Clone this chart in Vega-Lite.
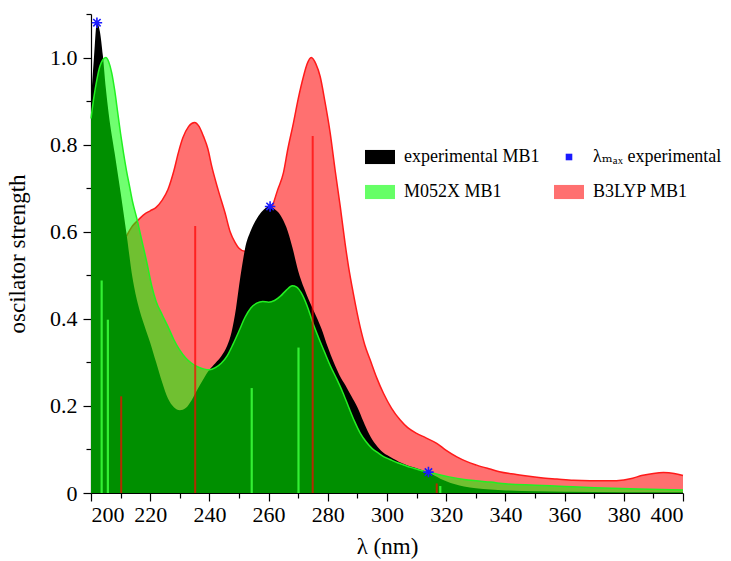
{
  "$schema": "https://vega.github.io/schema/vega-lite/v6.json",
  "width": 592,
  "height": 479,
  "autosize": {"type": "none"},
  "padding": {"left": 91, "top": 14, "right": 48, "bottom": 68},
  "background": "white",
  "config": {
    "view": {"stroke": null},
    "font": "Liberation Serif",
    "axis": {"labelFont": "Liberation Serif", "titleFont": "Liberation Serif", "domainColor": "black", "tickColor": "black", "labelColor": "black", "titleColor": "black", "grid": false, "titleFontWeight": "normal"},
    "legend": {"labelFont": "Liberation Serif, DejaVu Serif"}
  },
  "datasets": {
    "exp": [
      {"x":200,"y":0.90},{"x":201,"y":1.0},{"x":202,"y":1.08},{"x":203,"y":1.06},{"x":204,"y":1.005},{"x":205,"y":0.93},{"x":206,"y":0.87},{"x":208,"y":0.78},{"x":210,"y":0.69},{"x":212,"y":0.595},{"x":214,"y":0.495},{"x":216,"y":0.43},{"x":218,"y":0.385},{"x":220,"y":0.345},{"x":222,"y":0.30},{"x":224,"y":0.255},{"x":226,"y":0.217},{"x":228,"y":0.197},{"x":230,"y":0.19},{"x":232,"y":0.195},{"x":234,"y":0.213},{"x":236,"y":0.238},{"x":238,"y":0.262},{"x":240,"y":0.283},{"x":242,"y":0.298},{"x":244,"y":0.314},{"x":246,"y":0.338},{"x":247.5,"y":0.37},{"x":249,"y":0.425},{"x":250,"y":0.475},{"x":251,"y":0.52},{"x":252,"y":0.56},{"x":254,"y":0.603},{"x":256,"y":0.63},{"x":258,"y":0.648},{"x":260,"y":0.658},{"x":262,"y":0.652},{"x":264,"y":0.638},{"x":266,"y":0.61},{"x":268,"y":0.565},{"x":270,"y":0.51},{"x":272,"y":0.47},{"x":274,"y":0.437},{"x":276,"y":0.407},{"x":278,"y":0.375},{"x":280,"y":0.335},{"x":282,"y":0.3},{"x":284,"y":0.27},{"x":286,"y":0.247},{"x":288,"y":0.222},{"x":290,"y":0.197},{"x":292,"y":0.165},{"x":294,"y":0.135},{"x":296,"y":0.113},{"x":298,"y":0.097},{"x":300,"y":0.087},{"x":302,"y":0.079},{"x":304,"y":0.072},{"x":306,"y":0.066},{"x":308,"y":0.061},{"x":310,"y":0.057},{"x":312,"y":0.052},{"x":314,"y":0.047},{"x":316,"y":0.04},{"x":318,"y":0.033},{"x":320,"y":0.027},{"x":323,"y":0.02},{"x":326,"y":0.015},{"x":330,"y":0.011},{"x":335,"y":0.008},{"x":340,"y":0.006},{"x":350,"y":0.004},{"x":360,"y":0.003},{"x":380,"y":0.002},{"x":400,"y":0.002}
    ],
    "m052x": [
      {"x":200,"y":0.86},{"x":201,"y":0.91},{"x":202,"y":0.95},{"x":203,"y":0.98},{"x":204,"y":0.995},{"x":205,"y":1.0},{"x":206,"y":0.99},{"x":207,"y":0.965},{"x":208,"y":0.925},{"x":209,"y":0.875},{"x":210,"y":0.825},{"x":211,"y":0.78},{"x":212,"y":0.74},{"x":213,"y":0.705},{"x":214,"y":0.67},{"x":215.5,"y":0.63},{"x":217,"y":0.585},{"x":219,"y":0.525},{"x":220.5,"y":0.476},{"x":222,"y":0.44},{"x":224,"y":0.41},{"x":226,"y":0.382},{"x":228,"y":0.352},{"x":230,"y":0.328},{"x":232,"y":0.31},{"x":234,"y":0.298},{"x":236,"y":0.29},{"x":238,"y":0.285},{"x":240,"y":0.283},{"x":242,"y":0.288},{"x":244,"y":0.298},{"x":246,"y":0.315},{"x":248,"y":0.342},{"x":250,"y":0.372},{"x":252,"y":0.403},{"x":254,"y":0.425},{"x":256,"y":0.436},{"x":258,"y":0.44},{"x":260,"y":0.438},{"x":262,"y":0.442},{"x":264,"y":0.452},{"x":266,"y":0.466},{"x":268,"y":0.476},{"x":269.5,"y":0.473},{"x":271,"y":0.46},{"x":273,"y":0.43},{"x":275,"y":0.39},{"x":277,"y":0.355},{"x":279,"y":0.322},{"x":281,"y":0.29},{"x":283,"y":0.262},{"x":285,"y":0.232},{"x":287,"y":0.198},{"x":289,"y":0.165},{"x":291,"y":0.137},{"x":293,"y":0.117},{"x":295,"y":0.102},{"x":297,"y":0.092},{"x":299,"y":0.083},{"x":301,"y":0.077},{"x":303,"y":0.071},{"x":305,"y":0.066},{"x":307,"y":0.061},{"x":309,"y":0.057},{"x":311,"y":0.053},{"x":314,"y":0.048},{"x":317,"y":0.043},{"x":321,"y":0.037},{"x":326,"y":0.031},{"x":330,"y":0.028},{"x":335,"y":0.025},{"x":340,"y":0.021},{"x":350,"y":0.018},{"x":360,"y":0.015},{"x":370,"y":0.012},{"x":385,"y":0.009},{"x":400,"y":0.007}
    ],
    "b3lyp": [
      {"x":200,"y":0.30},{"x":205,"y":0.45},{"x":210,"y":0.56},{"x":212,"y":0.59},{"x":214,"y":0.613},{"x":215.5,"y":0.624},{"x":218,"y":0.64},{"x":220,"y":0.648},{"x":222,"y":0.656},{"x":224,"y":0.672},{"x":226,"y":0.697},{"x":228,"y":0.74},{"x":229.5,"y":0.781},{"x":231,"y":0.815},{"x":233,"y":0.842},{"x":235,"y":0.851},{"x":236.5,"y":0.842},{"x":238,"y":0.819},{"x":239.5,"y":0.79},{"x":240.8,"y":0.75},{"x":243,"y":0.695},{"x":245.3,"y":0.643},{"x":247,"y":0.6},{"x":248.7,"y":0.575},{"x":250,"y":0.562},{"x":252,"y":0.555},{"x":254,"y":0.56},{"x":256,"y":0.575},{"x":258,"y":0.6},{"x":260,"y":0.635},{"x":261.6,"y":0.665},{"x":263,"y":0.695},{"x":265,"y":0.735},{"x":266.5,"y":0.79},{"x":268.4,"y":0.85},{"x":270,"y":0.905},{"x":271.8,"y":0.957},{"x":273,"y":0.985},{"x":274.4,"y":1.0},{"x":276,"y":0.985},{"x":277.4,"y":0.957},{"x":279,"y":0.9},{"x":280.8,"y":0.827},{"x":282.5,"y":0.74},{"x":284.2,"y":0.658},{"x":285.8,"y":0.575},{"x":287,"y":0.52},{"x":288.6,"y":0.459},{"x":290.9,"y":0.382},{"x":292.5,"y":0.34},{"x":294.3,"y":0.306},{"x":296.5,"y":0.265},{"x":298.8,"y":0.229},{"x":301.5,"y":0.195},{"x":304.4,"y":0.168},{"x":307,"y":0.15},{"x":310,"y":0.137},{"x":313,"y":0.127},{"x":316.8,"y":0.114},{"x":320,"y":0.098},{"x":323.6,"y":0.083},{"x":327,"y":0.072},{"x":330.3,"y":0.064},{"x":334.8,"y":0.055},{"x":338,"y":0.049},{"x":342,"y":0.044},{"x":346,"y":0.04},{"x":352,"y":0.035},{"x":357.4,"y":0.032},{"x":363,"y":0.029},{"x":368.6,"y":0.028},{"x":375,"y":0.028},{"x":380,"y":0.03},{"x":383,"y":0.034},{"x":386,"y":0.04},{"x":390,"y":0.045},{"x":393.4,"y":0.047},{"x":397,"y":0.045},{"x":400,"y":0.04}
    ],
    "redsticks": [
      {"x":210.2,"y":0.222},{"x":235.2,"y":0.613},{"x":274.9,"y":0.82},{"x":316.8,"y":0.022}
    ],
    "greensticks": [
      {"x":203.6,"y":0.488},{"x":205.7,"y":0.398},{"x":254.3,"y":0.241},{"x":270.1,"y":0.334},{"x":318,"y":0.016}
    ],
    "stars": [
      {"x":202,"y":1.08},{"x":260.5,"y":0.658},{"x":314,"y":0.048}
    ],
    "legend": [
      {"series":"experimental MB1","x":500,"y":0.5},{"series":"M052X MB1","x":500,"y":0.5},{"series":"λₘₐₓ experimental","x":500,"y":0.5},{"series":"B3LYP MB1","x":500,"y":0.5}
    ]
  },
  "resolve": {"axis": {"x": "independent", "y": "independent"}},
  "layer": [
    {
      "data": {"name": "b3lyp"},
      "mark": {"type": "area", "color": "#ff0000", "opacity": 0.56, "interpolate": "monotone"},
      "encoding": {
        "x": {"field": "x", "type": "quantitative", "scale": {"domain": [200, 400], "nice": false, "zero": false},
          "axis": {"orient": "bottom", "values": [200,220,240,260,280,300,320,340,360,380,400], "tickSize": 8, "tickWidth": 1.2, "domainWidth": 1.2, "labelFont": "Liberation Serif", "labelFontSize": 22, "labelPadding": 3, "title": "λ (nm)", "titleFont": "Liberation Serif", "titleFontSize": 23, "titlePadding": 10}},
        "y": {"field": "y", "type": "quantitative", "scale": {"domain": [0, 1.1], "nice": false},
          "axis": {"orient": "left", "values": [0,0.2,0.4,0.6,0.8,1.0], "labelExpr": "datum.value === 0 ? '0' : format(datum.value, '.1f')", "tickSize": 8, "tickWidth": 1.2, "domainWidth": 1.2, "labelFont": "Liberation Serif", "labelFontSize": 22, "labelPadding": 6, "title": "oscilator strength", "titleFont": "Liberation Serif", "titleFontSize": 23, "titlePadding": 20}}
      }
    },
    {
      "data": {"name": "b3lyp"},
      "transform": [{"filter": "datum.x >= 212"}],
      "mark": {"type": "line", "color": "#ff1a1a", "strokeWidth": 1.5, "interpolate": "monotone"},
      "encoding": {
        "x": {"field": "x", "type": "quantitative", "scale": {"domain": [200, 400], "nice": false, "zero": false},
          "axis": {"orient": "bottom", "values": [210,230,250,270,290,310,330,350,370,390], "tickSize": 5, "tickWidth": 1.2, "domain": false, "labels": false, "title": null}},
        "y": {"field": "y", "type": "quantitative", "scale": {"domain": [0, 1.1], "nice": false},
          "axis": {"orient": "left", "values": [0.1,0.3,0.5,0.7,0.9,1.1], "tickSize": 5, "tickWidth": 1.2, "domain": false, "labels": false, "title": null}}
      }
    },
    {
      "data": {"name": "exp"},
      "mark": {"type": "area", "color": "#000000", "interpolate": "monotone"},
      "encoding": {
        "x": {"field": "x", "type": "quantitative", "scale": {"domain": [200, 400], "nice": false, "zero": false}, "axis": null},
        "y": {"field": "y", "type": "quantitative", "scale": {"domain": [0, 1.1], "nice": false}, "axis": null}
      }
    },
    {
      "data": {"name": "m052x"},
      "mark": {"type": "area", "color": "#00ff00", "opacity": 0.56, "interpolate": "monotone"},
      "encoding": {
        "x": {"field": "x", "type": "quantitative", "scale": {"domain": [200, 400], "nice": false, "zero": false}, "axis": null},
        "y": {"field": "y", "type": "quantitative", "scale": {"domain": [0, 1.1], "nice": false}, "axis": null}
      }
    },
    {
      "data": {"name": "m052x"},
      "mark": {"type": "line", "color": "#22f022", "strokeWidth": 1.5, "interpolate": "monotone"},
      "encoding": {
        "x": {"field": "x", "type": "quantitative", "scale": {"domain": [200, 400], "nice": false, "zero": false}, "axis": null},
        "y": {"field": "y", "type": "quantitative", "scale": {"domain": [0, 1.1], "nice": false}, "axis": null}
      }
    },
    {
      "data": {"name": "redsticks"},
      "mark": {"type": "rule", "color": "#ff0000", "strokeWidth": 2, "opacity": 0.7},
      "encoding": {
        "x": {"field": "x", "type": "quantitative", "scale": {"domain": [200, 400], "nice": false, "zero": false}, "axis": null},
        "y": {"field": "y", "type": "quantitative", "scale": {"domain": [0, 1.1], "nice": false}, "axis": null},
        "y2": {"datum": 0}
      }
    },
    {
      "data": {"name": "greensticks"},
      "mark": {"type": "rule", "color": "#33f033", "strokeWidth": 2.2},
      "encoding": {
        "x": {"field": "x", "type": "quantitative", "scale": {"domain": [200, 400], "nice": false, "zero": false}, "axis": null},
        "y": {"field": "y", "type": "quantitative", "scale": {"domain": [0, 1.1], "nice": false}, "axis": null},
        "y2": {"datum": 0}
      }
    },
    {
      "data": {"name": "stars"},
      "mark": {"type": "point", "shape": "M-1,0H1M0,-1V1M-0.7,-0.7L0.7,0.7M-0.7,0.7L0.7,-0.7", "filled": false, "stroke": "#1a1aff", "strokeWidth": 1.6, "size": 110, "opacity": 1},
      "encoding": {
        "x": {"field": "x", "type": "quantitative", "scale": {"domain": [200, 400], "nice": false, "zero": false}, "axis": null},
        "y": {"field": "y", "type": "quantitative", "scale": {"domain": [0, 1.1], "nice": false}, "axis": null}
      }
    },
    {
      "data": {"name": "legend"},
      "mark": {"type": "point", "filled": true, "clip": true, "opacity": 1},
      "encoding": {
        "x": {"field": "x", "type": "quantitative", "scale": {"domain": [200, 400], "nice": false, "zero": false}, "axis": null},
        "y": {"field": "y", "type": "quantitative", "scale": {"domain": [0, 1.1], "nice": false}, "axis": null},
        "fill": {"field": "series", "type": "nominal",
          "scale": {"domain": ["experimental MB1", "M052X MB1", "λₘₐₓ experimental", "B3LYP MB1"], "range": ["#000000", "#66ff66", "#1a1aff", "#ff7070"]},
          "legend": {"title": null, "orient": "none", "legendX": 274, "legendY": 128, "columns": 2, "columnPadding": 14, "rowPadding": 11, "symbolSize": 900, "symbolStrokeWidth": 0, "labelFont": "Liberation Serif, DejaVu Serif", "labelFontSize": 18, "labelColor": "black", "labelOffset": 9, "labelLimit": 300}},
        "shape": {"field": "series", "type": "nominal",
          "scale": {"domain": ["experimental MB1", "M052X MB1", "λₘₐₓ experimental", "B3LYP MB1"], "range": ["M-1,-0.47H1V0.47H-1Z", "M-1,-0.47H1V0.47H-1Z", "M-0.22,-0.22H0.22V0.22H-0.22Z", "M-1,-0.47H1V0.47H-1Z"]},
          "legend": {"title": null, "orient": "none", "legendX": 274, "legendY": 128, "columns": 2, "columnPadding": 14, "rowPadding": 11, "symbolSize": 900, "symbolStrokeWidth": 0, "labelFont": "Liberation Serif, DejaVu Serif", "labelFontSize": 18, "labelColor": "black", "labelOffset": 9, "labelLimit": 300}}
      }
    }
  ]
}
